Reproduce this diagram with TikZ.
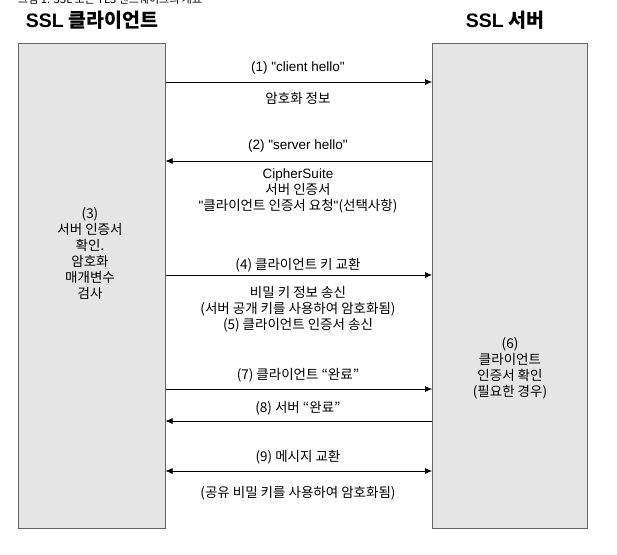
\documentclass[tikz,border=0pt]{standalone}
\usepackage{fontspec}
\setmainfont{Noto Sans CJK KR}
\newfontfamily\latn{Liberation Sans}
\usetikzlibrary{arrows.meta}
\begin{document}
\begin{tikzpicture}[x=1pt,y=-1pt,
  party/.style={draw=black!60,fill=black!10,line width=0.6pt},
  msg/.style={-{Latex[length=7pt,width=6pt]},line width=0.6pt},
  lbl/.style={font=\fontsize{13.5}{16}\selectfont,align=center,inner sep=0pt},
  ttl/.style={font=\fontsize{19.5}{21}\selectfont\bfseries,inner sep=0pt}]
\useasboundingbox (0,0) rectangle (617,554);
\begin{scope}
\clip (0,0) rectangle (617,554);
\node[anchor=west,font=\fontsize{11}{12}\selectfont,inner sep=0pt] (cap) at (18,-1) {그림 1. SSL 또는 TLS 핸드쉐이크의 개요};
\end{scope}
\node[ttl] (tc) at (92,20) {{\latn SSL} 클라이언트};
\node[ttl] (ts) at (505,20) {{\latn SSL} 서버};
\node[party,minimum width=147,minimum height=485,anchor=north west] (C) at (18,43) {};
\node[party,minimum width=155,minimum height=485,anchor=north west] (S) at (432,43) {};
\foreach \n/\y in {c1/82,c2/161,c4/275,c7/389,c8/421,c9/471}{
  \coordinate (\n a) at (C.east |- 0,\y);
  \coordinate (\n b) at (S.west |- 0,\y);}
\draw[msg] (c1a) -- (c1b);
\draw[msg] (c2b) -- (c2a);
\draw[msg] (c4a) -- (c4b);
\draw[msg] (c7a) -- (c7b);
\draw[msg] (c8b) -- (c8a);
\draw[msg,{Latex[length=7pt,width=6pt]}-{Latex[length=7pt,width=6pt]}] (c9a) -- (c9b);
\node[lbl] (l1) at (298,68) {\latn (1) "client hello"};
\node[lbl] (l1b) at (298,98) {암호화 정보};
\node[lbl] (l2) at (298,146) {\latn (2) "server hello"};
\node[lbl,anchor=north] (l2b) at (298,169) {{\latn CipherSuite}\\서버 인증서\\{\latn "}클라이언트 인증서 요청{\latn "}(선택사항)};
\node[lbl,anchor=north] (l3) at (90,207) {(3)\\서버 인증서\\확인.\\암호화\\매개변수\\검사};
\node[lbl] (l4) at (298,265) {(4) 클라이언트 키 교환};
\node[lbl,anchor=north] (l4b) at (298,286) {비밀 키 정보 송신\\(서버 공개 키를 사용하여 암호화됨)\\(5) 클라이언트 인증서 송신};
\node[lbl,anchor=north] (l6) at (510,337) {(6)\\클라이언트\\인증서 확인\\(필요한 경우)};
\node[lbl] (l7) at (298,375) {(7) 클라이언트 “완료”};
\node[lbl] (l8) at (298,408) {(8) 서버 “완료”};
\node[lbl] (l9) at (298,457) {(9) 메시지 교환};
\node[lbl] (l9b) at (298,493) {(공유 비밀 키를 사용하여 암호화됨)};
\end{tikzpicture}
\end{document}
